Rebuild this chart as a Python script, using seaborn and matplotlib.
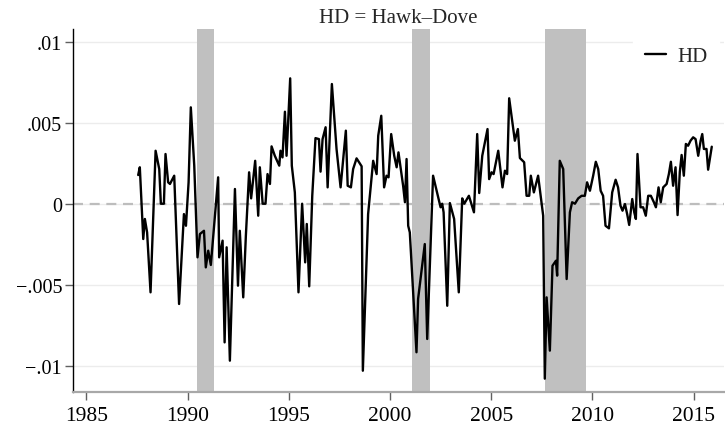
import matplotlib
matplotlib.use("Agg")
import matplotlib.pyplot as plt
import seaborn as sns
import pandas as pd

# Hawk-Dove index, one value per FOMC meeting (decimal year)
dates = [
    1987.56, 1987.64, 1987.81, 1987.89, 1988.00, 1988.17, 1988.42, 1988.60, 1988.68, 1988.83,
    1988.91, 1989.04, 1989.13, 1989.34, 1989.58, 1989.82, 1989.92, 1990.05, 1990.16, 1990.33,
    1990.49, 1990.61, 1990.81, 1990.90, 1991.02, 1991.15, 1991.51, 1991.56, 1991.73, 1991.83,
    1991.93, 1992.09, 1992.34, 1992.49, 1992.58, 1992.75, 1992.88, 1993.04, 1993.14, 1993.34,
    1993.49, 1993.57, 1993.71, 1993.85, 1993.95, 1994.07, 1994.15, 1994.31, 1994.53, 1994.59,
    1994.69, 1994.81, 1994.89, 1995.07, 1995.15, 1995.30, 1995.48, 1995.66, 1995.81, 1995.89,
    1996.01, 1996.16, 1996.32, 1996.49, 1996.57, 1996.67, 1996.82, 1996.92, 1997.13, 1997.36,
    1997.56, 1997.82, 1997.91, 1998.07, 1998.18, 1998.35, 1998.60, 1998.66, 1998.92, 1999.17,
    1999.34, 1999.42, 1999.57, 1999.71, 1999.83, 1999.93, 2000.06, 2000.21, 2000.33, 2000.42,
    2000.65, 2000.74, 2000.82, 2000.90, 2000.98, 2001.31, 2001.39, 2001.72, 2001.84, 2002.13,
    2002.50, 2002.58, 2002.65, 2002.83, 2002.96, 2003.17, 2003.40, 2003.57, 2003.67, 2003.90,
    2004.15, 2004.31, 2004.41, 2004.56, 2004.82, 2004.90, 2005.02, 2005.12, 2005.35, 2005.56,
    2005.68, 2005.79, 2005.89, 2006.17, 2006.32, 2006.42, 2006.63, 2006.75, 2006.88, 2006.96,
    2007.11, 2007.32, 2007.57, 2007.65, 2007.74, 2007.90, 2008.03, 2008.20, 2008.26, 2008.39,
    2008.56, 2008.73, 2008.89, 2009.00, 2009.14, 2009.30, 2009.47, 2009.63, 2009.74, 2009.88,
    2010.04, 2010.17, 2010.29, 2010.41, 2010.53, 2010.65, 2010.82, 2010.98, 2011.15, 2011.27,
    2011.39, 2011.49, 2011.61, 2011.72, 2011.82, 2011.97, 2012.07, 2012.15, 2012.23, 2012.38,
    2012.51, 2012.64, 2012.76, 2012.89, 2013.04, 2013.14, 2013.27, 2013.38, 2013.50, 2013.67,
    2013.78, 2013.88, 2013.99, 2014.11, 2014.21, 2014.32, 2014.41, 2014.52, 2014.62, 2014.73,
    2014.85, 2014.98, 2015.10, 2015.23, 2015.35, 2015.43, 2015.51, 2015.64, 2015.72, 2015.90,
]

hd = [
    0.00177, 0.00225, -0.00218, -0.00094, -0.00177, -0.00547, 0.00327, 0.00214, 0.00000, 0.00000,
    0.00307, 0.00132, 0.00122, 0.00173, -0.00619, -0.00064, -0.00136, 0.00132, 0.00595, 0.00235,
    -0.00331, -0.00187, -0.00167, -0.00393, -0.00290, -0.00378, 0.00163, -0.00331, -0.00228, -0.00856,
    -0.00269, -0.00969, 0.00091, -0.00506, -0.00167, -0.00578, -0.00198, 0.00194, 0.00033, 0.00265,
    -0.00074, 0.00225, 0.00000, 0.00000, 0.00183, 0.00122, 0.00354, 0.00296, 0.00235, 0.00327,
    0.00286, 0.00568, 0.00296, 0.00774, 0.00235, 0.00070, -0.00547, 0.00000, -0.00362, -0.00125,
    -0.00510, 0.00049, 0.00405, 0.00399, 0.00198, 0.00399, 0.00472, 0.00101, 0.00739, 0.00338,
    0.00101, 0.00451, 0.00111, 0.00101, 0.00214, 0.00280, 0.00231, -0.01031, -0.00064, 0.00265,
    0.00183, 0.00420, 0.00543, 0.00101, 0.00173, 0.00163, 0.00430, 0.00296, 0.00225, 0.00317,
    0.00111, 0.00009, 0.00276, -0.00136, -0.00177, -0.00917, -0.00588, -0.00249, -0.00835, 0.00173,
    -0.00022, 0.00000, -0.00053, -0.00630, 0.00004, -0.00094, -0.00547, 0.00033, 0.00000, 0.00049,
    -0.00053, 0.00430, 0.00066, 0.00296, 0.00461, 0.00152, 0.00194, 0.00183, 0.00327, 0.00101,
    0.00204, 0.00183, 0.00651, 0.00389, 0.00461, 0.00282, 0.00256, 0.00049, 0.00049, 0.00173,
    0.00070, 0.00173, -0.00074, -0.01080, -0.00578, -0.00907, -0.00383, -0.00352, -0.00444, 0.00265,
    0.00214, -0.00465, -0.00053, 0.00009, 0.00000, 0.00033, 0.00049, 0.00049, 0.00132, 0.00080,
    0.00173, 0.00259, 0.00214, 0.00080, 0.00049, -0.00136, -0.00152, 0.00070, 0.00148, 0.00101,
    -0.00012, -0.00043, -0.00002, -0.00064, -0.00131, 0.00029, -0.00053, -0.00094, 0.00307, -0.00022,
    -0.00022, -0.00074, 0.00049, 0.00049, 0.00009, -0.00022, 0.00101, 0.00009, 0.00101, 0.00122,
    0.00183, 0.00259, 0.00111, 0.00225, -0.00070, 0.00194, 0.00301, 0.00173, 0.00369, 0.00358,
    0.00389, 0.00410, 0.00399, 0.00296, 0.00389, 0.00430, 0.00338, 0.00338, 0.00210, 0.00352,
]

# NBER recessions (start, end)
recessions = [(1990.45, 1991.30), (2001.08, 2001.98), (2007.67, 2009.67)]

x_ticks = [1985, 1990, 1995, 2000, 2005, 2010, 2015]
y_ticks = [-0.01, -0.005, 0.0, 0.005, 0.01]
y_tick_labels = ["\u2212.01", "\u2212.005", "0", ".005", ".01"]

df = pd.DataFrame({"date": dates, "HD": hd})

sns.set_theme(style="white")
plt.rcParams["font.family"] = ["Liberation Serif", "DejaVu Serif"]

fig = plt.figure(figsize=(7.25, 4.27), dpi=100)
ax = fig.add_axes([0.101, 0.079, 0.8975, 0.8505])

for start, end in recessions:
    ax.axvspan(start, end, color="#c0c0c0", lw=0, zorder=1)

ax.axhline(0, color="#bdbdbd", lw=1.6, ls=(0, (4.5, 3)), zorder=0.8)

sns.lineplot(data=df, x="date", y="HD", ax=ax, color="black", lw=1.7,
             sort=False, label="HD", zorder=3)

ax.set_xlim(1984.35, 2016.5)
ax.set_ylim(-0.01164, 0.01078)
ax.set_xticks(x_ticks)
ax.set_xticklabels([str(t) for t in x_ticks])
ax.set_yticks(y_ticks)
ax.set_yticklabels(y_tick_labels)
ax.set_xlabel("")
ax.set_ylabel("")

ax.yaxis.grid(True, color="#ececec", lw=1.0, zorder=0)
ax.xaxis.grid(False)
ax.set_axisbelow(True)

for side in ("top", "right"):
    ax.spines[side].set_visible(False)
ax.spines["left"].set_color("black")
ax.spines["left"].set_linewidth(1.0)
ax.spines["bottom"].set_color("#a8a8a8")
ax.spines["bottom"].set_linewidth(1.6)

ax.tick_params(axis="both", which="major", direction="out", length=6,
               width=1.0, color="#606060", labelsize=14.5, labelcolor="black",
               left=True, bottom=True)
ax.tick_params(axis="x", pad=4, labelsize=15.5)
ax.tick_params(axis="y", pad=2)

ax.set_title("HD = Hawk\u2013Dove", fontsize=15, pad=5)

leg = ax.legend(loc="center right", bbox_to_anchor=(0.992, 0.924),
                frameon=True, fontsize=15, handlelength=1.0,
                handletextpad=0.55, borderpad=0.55, borderaxespad=0.0,
                fancybox=False)
leg.get_frame().set_facecolor("white")
leg.get_frame().set_edgecolor("white")
leg.get_frame().set_alpha(1.0)
leg.set_zorder(5)

fig.savefig("out.png", dpi=100, facecolor="white")
